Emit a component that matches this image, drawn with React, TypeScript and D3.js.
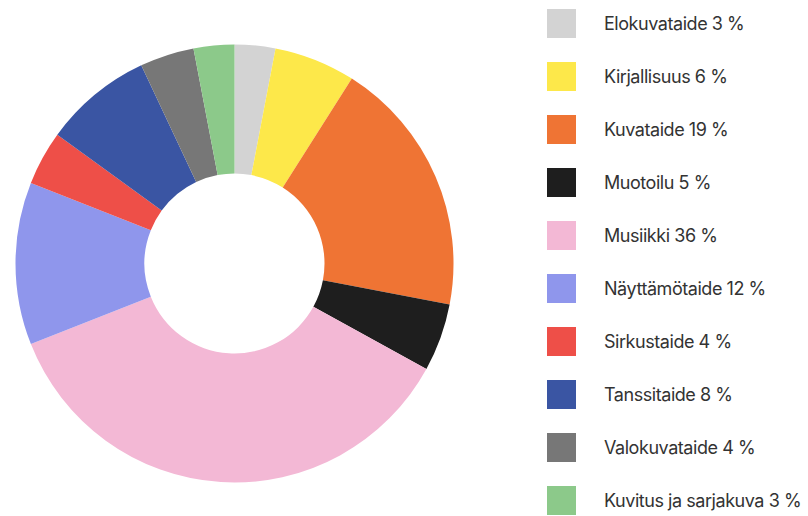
import React from "react";
import * as d3 from "d3";

const categories = [
  "Elokuvataide",
  "Kirjallisuus",
  "Kuvataide",
  "Muotoilu",
  "Musiikki",
  "Näyttämötaide",
  "Sirkustaide",
  "Tanssitaide",
  "Valokuvataide",
  "Kuvitus ja sarjakuva",
];
const shares = [3, 6, 19, 5, 36, 12, 4, 8, 4, 3];
const colours = [
  "#d3d3d3",
  "#fde84a",
  "#ef7434",
  "#1e1e1e",
  "#f3b8d5",
  "#8f96ec",
  "#ee4f48",
  "#3a55a3",
  "#777777",
  "#8cc98a",
];

const W = 808;
const H = 516;
const cx = 234.5;
const cy = 263.5;
const outer = 219;
const inner = 90;

const App = () => {
  const rows = categories.map((c, i) => ({ name: c, value: shares[i], colour: colours[i] }));
  const pie = d3
    .pie<{ name: string; value: number; colour: string }>()
    .value(d => d.value)
    .sort(null);
  const arc = d3.arc<d3.PieArcDatum<any>>().innerRadius(inner).outerRadius(outer);
  const slices = pie(rows);

  const legendY = d3.scaleBand().domain(categories).range([0, 530]);

  return (
    <svg
      width={W}
      height={H}
      style={{ position: "absolute", left: 0, top: 0 }}
      fontFamily="Inter, 'Open Sans', sans-serif"
    >
      <g transform={`translate(${cx},${cy})`}>
        {slices.map((s, i) => (
          <path key={i} d={arc(s) || ""} fill={s.data.colour} />
        ))}
      </g>
      <g transform="translate(547,9)">
        {rows.map(r => (
          <g key={r.name} transform={`translate(0,${legendY(r.name)})`}>
            <rect width={29} height={29} fill={r.colour} />
            <text
              x={57}
              y={14.5}
              dy="0.35em"
              fontSize={18}
              letterSpacing={-0.45}
              fill="#333"
            >
              {`${r.name} ${r.value} %`}
            </text>
          </g>
        ))}
      </g>
    </svg>
  );
};

export default App;
